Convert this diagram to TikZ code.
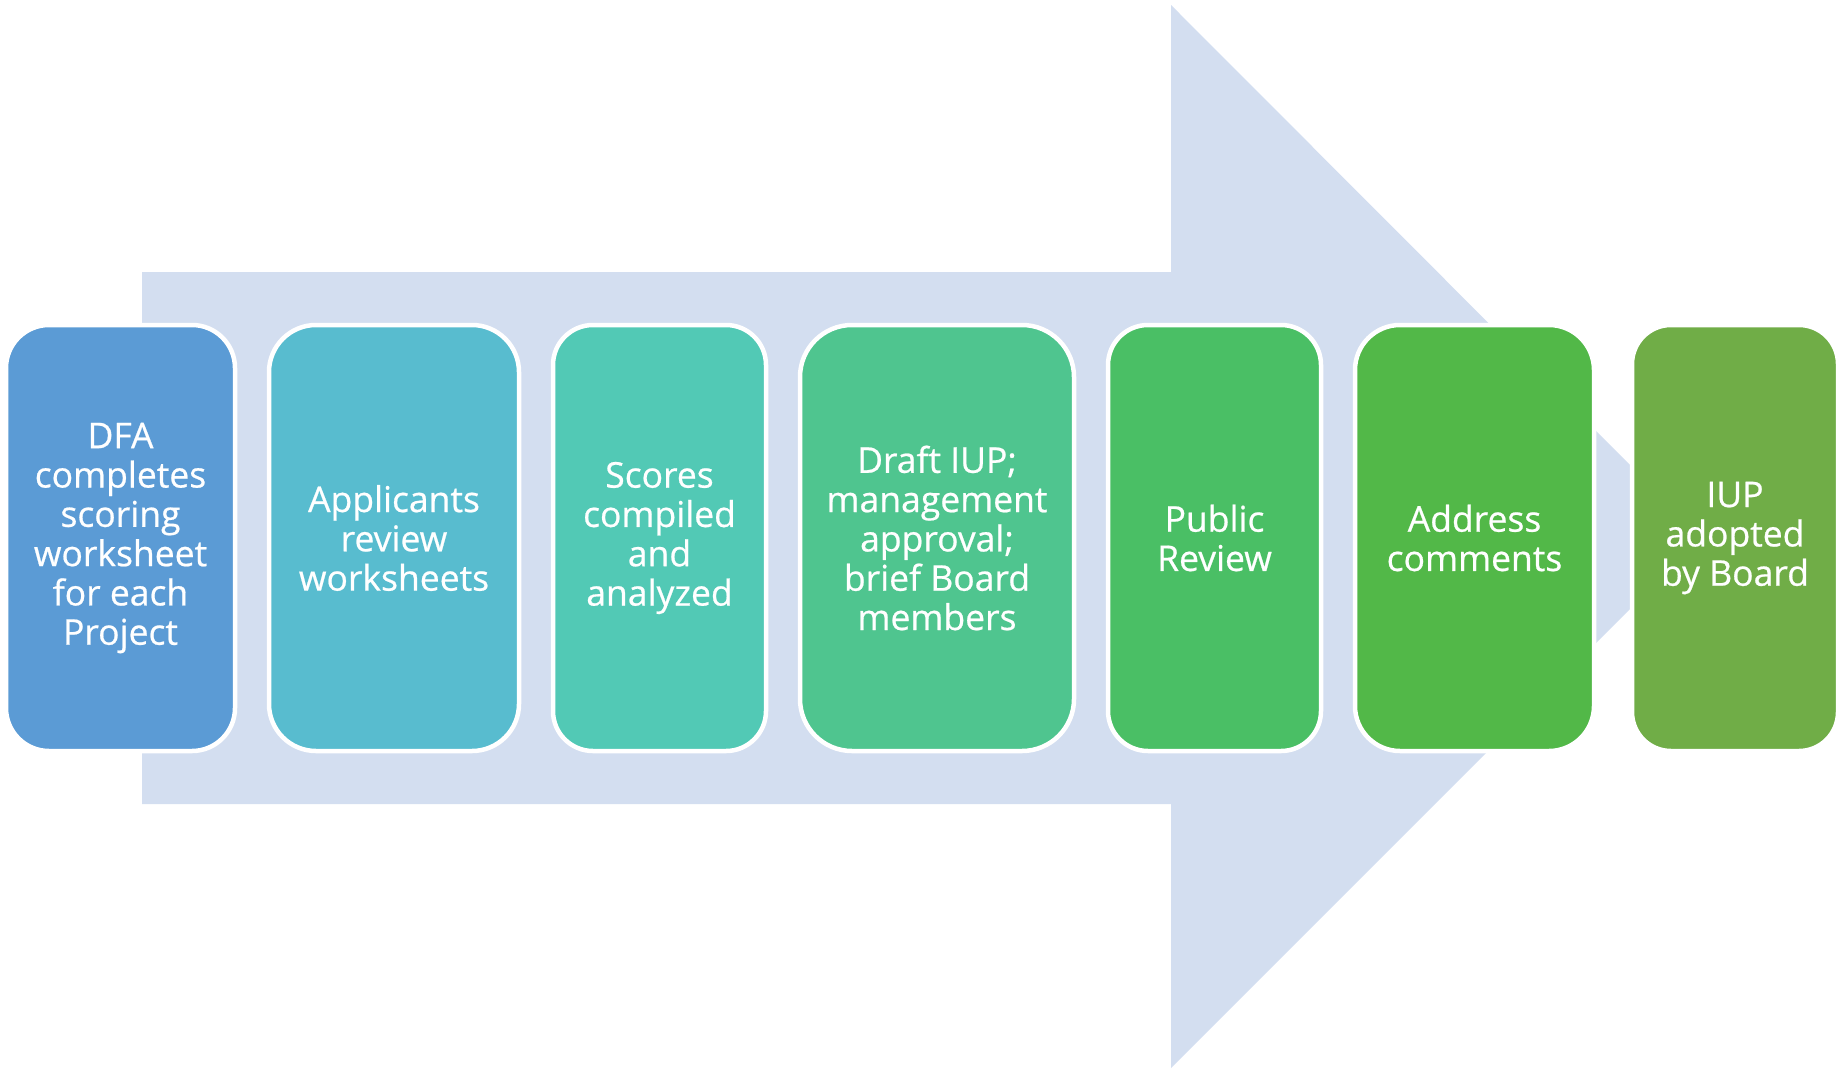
\documentclass[tikz,border=0pt]{standalone}
\usepackage{fontspec}
\setmainfont{Open Sans}
\newfontfamily\boxfont{Open Sans}[FakeBold=0.6]
\definecolor{arrowc}{HTML}{D3DEF0}
\definecolor{cA}{HTML}{5B9BD5}
\definecolor{cB}{HTML}{58BCCF}
\definecolor{cC}{HTML}{52C9B5}
\definecolor{cD}{HTML}{4FC58F}
\definecolor{cE}{HTML}{4ABF65}
\definecolor{cF}{HTML}{52B848}
\definecolor{cG}{HTML}{70AD47}
\begin{document}
\begin{tikzpicture}[x=1pt,y=-1pt,
  stepbox/.style={rectangle, fill=#1, draw=white, line width=4.5pt, inner sep=0pt,
    minimum height=426pt, text=white, align=center,
    font=\boxfont\fontsize{35.5}{39.3}\selectfont}]
\useasboundingbox (0,0) rectangle (1841,1068);
\fill[arrowc] (142,272) -- (1171,272) -- (1171,5) -- (1702,537) -- (1171,1068) -- (1171,804) -- (142,804) -- cycle;
\node[stepbox=cA, minimum width=229pt, rounded corners=43pt] (b1) at (120.5,538)
  {DFA\\completes\\scoring\\worksheet\\for each\\Project};
\node[stepbox=cB, minimum width=250pt, rounded corners=47pt] (b2) at (394,538)
  {Applicants\\review\\worksheets};
\node[stepbox=cC, minimum width=213pt, rounded corners=40pt] (b3) at (659.5,538)
  {Scores\\compiled\\and\\analyzed};
\node[stepbox=cD, minimum width=274pt, rounded corners=52pt] (b4) at (937,538)
  {Draft IUP;\\management\\approval;\\brief Board\\members};
\node[stepbox=cE, minimum width=213pt, rounded corners=40pt] (b5) at (1214.5,538)
  {Public\\Review};
\node[stepbox=cF, minimum width=239pt, rounded corners=45pt] (b6) at (1474.5,538)
  {Address\\comments};
\node[stepbox=cG, minimum width=206pt, rounded corners=39pt] (b7) at (1735,538)
  {IUP\\adopted\\by Board};
\end{tikzpicture}
\end{document}
